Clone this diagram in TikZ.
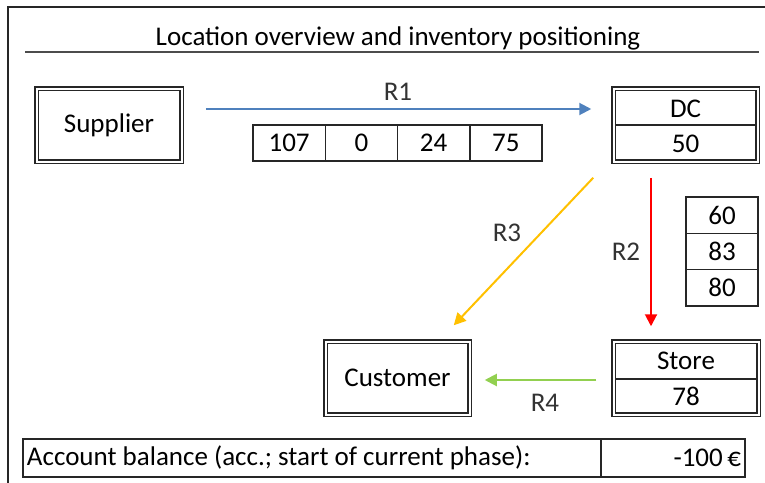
\documentclass[tikz,border=0pt]{standalone}
\usepackage{fontspec}
\setmainfont{Carlito}
\usetikzlibrary{arrows.meta}
\definecolor{rblue}{HTML}{4F81BD}
\definecolor{rred}{HTML}{FF0000}
\definecolor{ryellow}{HTML}{FFC000}
\definecolor{rgreen}{HTML}{92D050}
\definecolor{rlabel}{HTML}{333333}
\tikzset{
  txt/.style={font=\fontsize{27}{32}\selectfont, inner sep=0pt, text=black},
  dbox/.style={draw=black!85, line width=1.5pt, double=white, double distance=2pt,
    rectangle, inner sep=0pt, minimum height=73pt},
  cell/.style={draw=black!85, line width=1.5pt, rectangle, inner sep=0pt,
    font=\fontsize{27}{32}\selectfont, text=black},
  divider/.style={draw=black!85, line width=1.5pt, shorten <=2.5pt, shorten >=2.5pt},
  flow/.style={line width=2pt, -{Triangle[length=12pt,width=12pt]}},
  rlab/.style={font=\fontsize{27}{32}\selectfont, inner sep=0pt, text=rlabel},
}
\begin{document}
\begin{tikzpicture}[x=1pt,y=-1pt]
\useasboundingbox (0,0) rectangle (765,482);
\begin{scope}
\clip (0,0) rectangle (765,482);
\draw[line width=2pt, black!85] (8,500) -- (8,7) -- (780,7);
\end{scope}
% title
\node[txt] (title) at (398,38) {Location overview and inventory positioning};
\draw[line width=2pt, black!70] (25,52) -- (759,52);
% location boxes
\node[dbox, minimum width=145pt, txt] (supplier) at (109,125) {Supplier};
\node[dbox, minimum width=144pt] (dc) at (685.5,125) {};
\draw[divider] (dc.west) -- (dc.east);
\node[txt] (dcname) at (685.5,108.5) {DC};
\node[txt] (dcinv) at (685.5,143.5) {50};
\node[dbox, minimum width=144pt, txt] (customer) at (397.5,378) {Customer};
\node[dbox, minimum width=145pt] (store) at (686,378) {};
\draw[divider] ([yshift=-1pt]store.west) -- ([yshift=-1pt]store.east);
\node[txt] (storename) at (686,360.5) {Store};
\node[txt] (storeinv) at (686,396.5) {78};
% R1 pipeline
\node[cell, minimum width=72.25pt, minimum height=36pt] (p1) at (289.125,143) {107};
\node[cell, minimum width=72.25pt, minimum height=36pt] (p2) at (361.375,143) {0};
\node[cell, minimum width=72.25pt, minimum height=36pt] (p3) at (433.625,143) {24};
\node[cell, minimum width=72.25pt, minimum height=36pt] (p4) at (505.875,143) {75};
% R2 pipeline
\node[cell, minimum width=72pt, minimum height=36.33pt] (q1) at (722,215.2) {60};
\node[cell, minimum width=72pt, minimum height=36.33pt] (q2) at (722,251.5) {83};
\node[cell, minimum width=72pt, minimum height=36.33pt] (q3) at (722,287.8) {80};
% account balance
\node[cell, minimum width=578pt, minimum height=38pt, text width=570pt, align=flush left] (acc) at (312,458) {Account balance (acc.; start of current phase):};
\node[cell, minimum width=144pt, minimum height=38pt, text width=136pt, align=flush right] (bal) at (673,458) {-100\,€};
% flows
\draw[flow, rblue] ([xshift=23.5pt,yshift=16pt]supplier.east) -- ([xshift=-21.5pt,yshift=16pt]dc.west);
\draw[flow, rred] ([xshift=-34.5pt,yshift=-15.5pt]dc.south) -- ([xshift=-35pt,yshift=14.5pt]store.north);
\draw[flow, ryellow] ([xshift=-19.5pt,yshift=-15.5pt]dc.south west) -- ([xshift=-16.5pt,yshift=15.5pt]customer.north east);
\draw[flow, rgreen] ([xshift=-16.5pt,yshift=-2pt]store.west) -- ([xshift=14.5pt,yshift=-2pt]customer.east);
% labels
\node[rlab] (l1) at (398,92) {R1};
\node[rlab] (l2) at (626,252) {R2};
\node[rlab] (l3) at (507,233) {R3};
\node[rlab] (l4) at (545,403) {R4};
\end{tikzpicture}
\end{document}
